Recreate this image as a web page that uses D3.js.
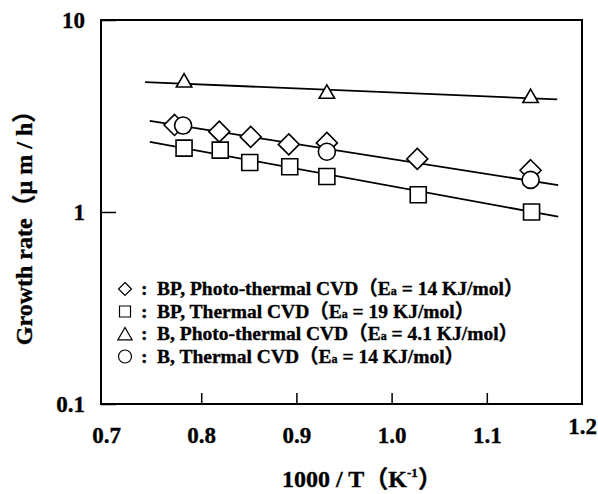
<!DOCTYPE html>
<html lang="en">
<head>
    <meta charset="UTF-8">
    <title>Growth rate vs 1000/T</title>
    <script src="https://d3js.org/d3.v7.min.js"></script>
    <style>
        body {
            margin: 0;
            background: white;
        }

        text {
            font-family: "Liberation Serif", "Times New Roman", "Noto Sans CJK JP", serif;
            font-weight: bold;
            fill: black;
            stroke: black;
            stroke-width: 0.35px;
        }
    </style>
</head>
<body>
    <script>
        // tick values / labels
        let xTicks = [0.7, 0.8, 0.9, 1.0, 1.1, 1.2]
        let yTicks = [0.1, 1, 10]
        let yTickLabels = ["0.1", "1", "10"]

        // BP, photo-thermal CVD (diamonds)
        let bpPhotoX = [0.772, 0.819, 0.852, 0.892, 0.932, 1.027, 1.146]
        let bpPhotoY = [2.84, 2.62, 2.46, 2.25, 2.29, 1.89, 1.65]
        // BP, thermal CVD (squares)
        let bpThermX = [0.782, 0.820, 0.851, 0.893, 0.932, 1.028, 1.147]
        let bpThermY = [2.15, 2.10, 1.81, 1.72, 1.53, 1.23, 1.00]
        // B, photo-thermal CVD (triangles)
        let bPhotoX = [0.782, 0.932, 1.146]
        let bPhotoY = [4.83, 4.22, 4.01]
        // B, thermal CVD (circles)
        let bThermX = [0.781, 0.932, 1.146]
        let bThermY = [2.82, 2.06, 1.47]

        // fitted Arrhenius lines (end points)
        let fitTriX = [0.741, 1.174]
        let fitTriY = [4.75, 3.86]
        let fitDiaX = [0.746, 1.175]
        let fitDiaY = [2.98, 1.38]
        let fitSqX = [0.746, 1.175]
        let fitSqY = [2.32, 0.945]

        let legendLabels = ["BP, Photo-thermal CVD", "BP, Thermal CVD", "B, Photo-thermal CVD", "B, Thermal CVD"]
        let legendEa = ["14", "19", "4.1", "14"]
        let legendShapes = ["diamond", "square", "triangle", "circle"]

        let width = 598
        let height = 494
        let plot = { left: 101, top: 20, right: 582, bottom: 404 }

        let svg = d3.select("body").append("svg")
            .attr("width", width)
            .attr("height", height)

        let x = d3.scaleLinear().domain([0.7, 1.2]).range([106, plot.right])
        let y = d3.scaleLog().domain([0.1, 10]).range([plot.bottom, plot.top])

        // marker shapes, centred on 0,0
        function shapePath(kind, s) {
            if (kind == "diamond") return `M0,${-s}L${s},0L0,${s}L${-s},0Z`
            if (kind == "square") return `M${-s},${-s}H${s}V${s}H${-s}Z`
            if (kind == "triangle") return `M0,${-s}L${s * 1.1},${s * 0.9}L${-s * 1.1},${s * 0.9}Z`
            let p = d3.path()
            p.arc(0, 0, s, 0, 2 * Math.PI)
            return p.toString()
        }

        // x axis
        let xAxis = svg.append("g")
            .attr("transform", `translate(0,${plot.bottom})`)
            .call(d3.axisBottom(x).tickValues(xTicks).tickFormat(d3.format(".1f"))
                .tickSizeInner(-11).tickSizeOuter(0).tickPadding(23))
        xAxis.select(".domain").remove()
        xAxis.selectAll(".tick line")
            .attr("stroke-width", 1.5)
            .attr("display", d => (d > 0.75 && d < 1.15) ? null : "none")
        xAxis.selectAll("text").style("font-size", "23px")
        xAxis.selectAll(".tick").filter(d => d == 1.2).select("text").attr("y", 14)

        // y axis
        let yAxis = svg.append("g")
            .attr("transform", `translate(${plot.left},0)`)
            .call(d3.axisLeft(y).tickValues(yTicks).tickFormat((d, i) => yTickLabels[i])
                .tickSizeInner(-15).tickSizeOuter(0).tickPadding(16))
        yAxis.select(".domain").remove()
        yAxis.selectAll(".tick line").attr("stroke-width", 1.5)
        yAxis.selectAll("text").style("font-size", "23px")

        // frame
        svg.append("rect")
            .attr("x", plot.left)
            .attr("y", plot.top)
            .attr("width", plot.right - plot.left)
            .attr("height", plot.bottom - plot.top)
            .attr("fill", "none")
            .attr("stroke", "black")
            .attr("stroke-width", 2)

        // fit lines
        let line = d3.line().x(d => x(d[0])).y(d => y(d[1]))
        let fits = [[fitTriX, fitTriY], [fitDiaX, fitDiaY], [fitSqX, fitSqY]]
        fits.forEach(function (f) {
            svg.append("path")
                .attr("d", line(d3.zip(f[0], f[1])))
                .attr("fill", "none")
                .attr("stroke", "black")
                .attr("stroke-width", 1.8)
        })

        // markers
        function drawMarkers(xs, ys, kind, size) {
            svg.append("g").selectAll("path")
                .data(d3.zip(xs, ys))
                .join("path")
                .attr("transform", d => `translate(${x(d[0])},${y(d[1])})`)
                .attr("d", shapePath(kind, size))
                .attr("fill", "white")
                .attr("stroke", "black")
                .attr("stroke-width", 1.6)
        }
        drawMarkers(bPhotoX, bPhotoY, "triangle", 7)
        drawMarkers(bpThermX, bpThermY, "square", 8)
        drawMarkers(bpPhotoX, bpPhotoY, "diamond", 10.5)
        drawMarkers(bThermX, bThermY, "circle", 8.5)

        // legend
        let legendSizes = { diamond: 6.5, square: 5.5, triangle: 6.5, circle: 6.5 }
        let legend = svg.append("g")
        legendLabels.forEach(function (label, i) {
            let cy = 289 + i * 22.5
            legend.append("path")
                .attr("transform", `translate(125,${cy})`)
                .attr("d", shapePath(legendShapes[i], legendSizes[legendShapes[i]]))
                .attr("fill", "white")
                .attr("stroke", "black")
                .attr("stroke-width", 1.2)
            legend.append("text")
                .attr("x", 141)
                .attr("y", cy + 6)
                .style("font-size", "19.5px")
                .text(":")
            let t = legend.append("text")
                .attr("x", 157)
                .attr("y", cy + 6)
                .style("font-size", "19.5px")
            t.append("tspan").text(label + "（E")
            t.append("tspan").style("font-size", "12px").text("a")
            t.append("tspan").text(` = ${legendEa[i]} KJ/mol）`)
        })

        // axis titles
        let xTitle = svg.append("text")
            .attr("x", 362)
            .attr("y", 487)
            .attr("text-anchor", "middle")
            .style("font-size", "24px")
        xTitle.append("tspan").text("1000 / T（K")
        xTitle.append("tspan").attr("dy", -10).style("font-size", "13px").text("-1")
        xTitle.append("tspan").attr("dy", 10).text("）")

        svg.append("text")
            .attr("transform", "translate(32,222) rotate(-90)")
            .attr("text-anchor", "middle")
            .style("font-size", "24px")
            .text("Growth rate（μ m / h）")
    </script>
</body>
</html>
